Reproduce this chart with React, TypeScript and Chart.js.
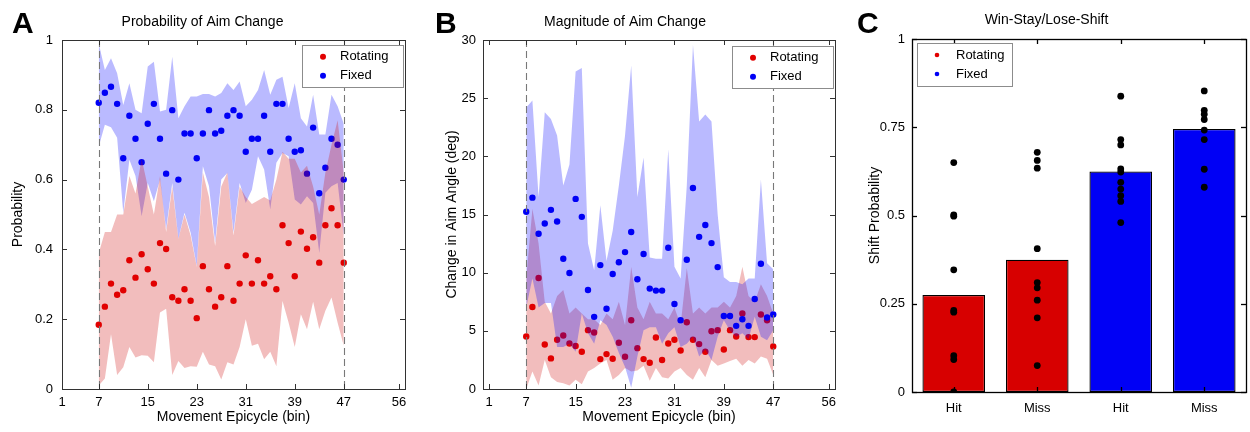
import React, { useEffect, useRef } from "react";
import { Chart, registerables } from "chart.js";

Chart.register(...registerables);

const FONT = "'Liberation Sans', Arial, Helvetica, sans-serif";

// ---------- shared ----------
const bins = [7, 8, 9, 10, 11, 12, 13, 14, 15, 16, 17, 18, 19, 20, 21, 22, 23, 24, 25, 26, 27, 28, 29, 30, 31, 32, 33, 34, 35, 36, 37, 38, 39, 40, 41, 42, 43, 44, 45, 46, 47];
const epicycleTicks = [1, 7, 15, 23, 31, 39, 47, 56];
const windowEdges = [7, 47];
const seriesNames = ["Rotating", "Fixed"];

// ---------- Panel A: probability of aim change ----------
const probRotating = [0.184, 0.236, 0.302, 0.27, 0.283, 0.369, 0.319, 0.386, 0.343, 0.302, 0.418, 0.401, 0.263, 0.253, 0.286, 0.253, 0.203, 0.352, 0.286, 0.236, 0.263, 0.352, 0.253, 0.302, 0.383, 0.302, 0.369, 0.302, 0.323, 0.286, 0.469, 0.418, 0.323, 0.451, 0.402, 0.435, 0.362, 0.469, 0.518, 0.469, 0.362];
const probRotatingLow = [0.01, 0.03, 0.157, 0.04, 0.062, 0.12, 0.09, 0.097, 0.095, 0.077, 0.219, 0.23, 0.04, 0.08, 0.06, 0.065, 0.064, 0.107, 0.07, 0.065, 0.027, 0.077, 0.07, 0.12, 0.2, 0.124, 0.13, 0.085, 0.107, 0.065, 0.252, 0.19, 0.12, 0.214, 0.171, 0.25, 0.171, 0.224, 0.262, 0.19, 0.124];
const probRotatingHigh = [0.39, 0.45, 0.45, 0.5, 0.5, 0.61, 0.56, 0.66, 0.58, 0.5, 0.61, 0.45, 0.58, 0.43, 0.5, 0.44, 0.35, 0.62, 0.55, 0.41, 0.58, 0.62, 0.44, 0.58, 0.55, 0.53, 0.54, 0.55, 0.54, 0.6, 0.68, 0.66, 0.66, 0.62, 0.64, 0.58, 0.5, 0.62, 0.7, 0.77, 0.62];
const probFixed = [0.82, 0.849, 0.866, 0.817, 0.661, 0.783, 0.717, 0.65, 0.76, 0.817, 0.717, 0.617, 0.799, 0.6, 0.732, 0.732, 0.661, 0.732, 0.799, 0.732, 0.74, 0.783, 0.799, 0.783, 0.68, 0.717, 0.717, 0.783, 0.68, 0.817, 0.817, 0.717, 0.68, 0.684, 0.617, 0.749, 0.561, 0.634, 0.717, 0.7, 0.6];
const probFixedLow = [0.695, 0.757, 0.75, 0.72, 0.505, 0.657, 0.61, 0.495, 0.59, 0.538, 0.6, 0.457, 0.59, 0.43, 0.505, 0.448, 0.352, 0.638, 0.581, 0.419, 0.6, 0.619, 0.448, 0.59, 0.533, 0.571, 0.667, 0.629, 0.514, 0.648, 0.676, 0.667, 0.543, 0.529, 0.552, 0.533, 0.39, 0.562, 0.581, 0.59, 0.438];
const probFixedHigh = [0.99, 0.914, 0.948, 0.905, 0.814, 0.876, 0.8, 0.79, 0.924, 0.938, 0.795, 0.8, 0.952, 0.776, 0.81, 0.838, 0.838, 0.845, 0.845, 0.838, 0.848, 0.876, 0.857, 0.881, 0.81, 0.829, 0.857, 0.914, 0.843, 0.886, 0.895, 0.805, 0.876, 0.776, 0.752, 0.843, 0.729, 0.729, 0.843, 0.81, 0.76];

// ---------- Panel B: magnitude of aim change (deg) ----------
const magRotating = [4.51, 7.05, 9.54, 3.83, 2.63, 4.23, 4.6, 3.91, 3.69, 3.2, 5.06, 4.86, 2.57, 3.0, 2.6, 3.97, 2.77, 5.91, 3.51, 2.57, 2.26, 4.43, 2.49, 3.91, 4.23, 3.31, 5.74, 4.23, 3.86, 3.2, 4.97, 5.06, 3.4, 5.06, 4.51, 6.49, 4.46, 4.46, 6.4, 5.91, 3.66];
const magRotatingLow = [0, 1.5, 0.3, 2.5, 1.0, 0.6, 0.5, 0.3, 0.8, 0.4, 1.5, 1.8, 2.2, 2.5, 0.8, 1.2, 1.8, 1.5, 1.6, 2.0, 0.7, 1.8, 1.0, 0.9, 1.5, 1.8, 1.2, 0.8, 1.8, 1.0, 2.5, 2.0, 2.2, 2.4, 2.6, 2.0, 2.5, 2.2, 2.8, 2.6, 1.2];
const magRotatingHigh = [9.5, 15.5, 12.5, 7.5, 6.5, 8.0, 8.5, 6.5, 7.0, 6.5, 6.0, 6.0, 5.5, 6.5, 6.0, 7.5, 5.5, 10.5, 7.0, 6.0, 7.5, 6.5, 6.5, 6.0, 7.0, 5.5, 10.4, 6.5, 7.0, 6.5, 7.0, 7.0, 7.5, 7.0, 8.0, 10.5, 8.0, 7.5, 9.0, 8.0, 6.5];
const magFixed = [15.23, 16.45, 13.34, 14.22, 15.4, 14.4, 11.2, 9.97, 16.34, 14.8, 8.51, 6.2, 10.65, 6.9, 9.88, 10.9, 11.77, 13.5, 9.43, 11.6, 8.63, 8.46, 8.46, 12.14, 7.31, 5.91, 11.11, 17.28, 13.08, 14.1, 12.54, 10.48, 6.28, 6.28, 5.43, 6.0, 5.43, 7.74, 10.77, 6.14, 6.4];
const magFixedLow = [7.0, 9.5, 7.0, 7.4, 7.4, 3.6, 3.6, 3.9, 3.2, 6.5, 4.8, 3.9, 5.9, 5.5, 4.5, 3.1, 1.9, 0.1, 2.8, 5.05, 5.3, 5.3, 3.9, 4.8, 5.3, 3.6, 3.9, 4.5, 2.8, 3.4, 2.5, 4.5, 5.9, 5.0, 4.5, 4.8, 4.3, 6.2, 4.5, 4.2, 5.05];
const magFixedHigh = [24.2, 24.8, 16.5, 23.8, 23.2, 21.8, 17.5, 19.3, 27.3, 27.6, 12.5, 10.2, 15.8, 11.0, 13.6, 17.5, 21.8, 27.8, 16.5, 19.9, 11.3, 11.2, 11.2, 20.6, 10.5, 9.5, 17.5, 29.6, 23.0, 23.6, 23.0, 15.0, 9.6, 9.2, 9.2, 9.0, 9.5, 9.5, 18.0, 10.8, 10.3];

// ---------- Panel C: win-stay / lose-shift ----------
const conditions = ["Hit", "Miss", "Hit", "Miss"];
const shiftMean = [0.275, 0.375, 0.625, 0.745];
const shiftRotHit = [0.65, 0.502, 0.498, 0.346, 0.231, 0.226, 0.103, 0.092, 0.0];
const shiftRotMiss = [0.679, 0.656, 0.634, 0.406, 0.31, 0.295, 0.26, 0.21, 0.075];
const shiftFixHit = [0.838, 0.715, 0.7, 0.632, 0.623, 0.594, 0.575, 0.556, 0.54, 0.48];
const shiftFixMiss = [0.853, 0.798, 0.787, 0.772, 0.742, 0.715, 0.631, 0.58];

// ---------- colours ----------
const RED = "rgb(225,0,0)";
const BLUE = "rgb(0,0,245)";
const RED_BAND = "rgba(205,0,0,0.26)";
const BLUE_BAND = "rgba(0,0,255,0.27)";
const BAR_RED = "rgb(215,0,0)";
const BAR_BLUE = "rgb(0,0,245)";

const pts = (ys: number[]) => bins.map((b, i) => ({ x: b, y: ys[i] }));
const fmt = (v: any) => String(parseFloat(Number(v).toFixed(2)));

function bandSets(low: number[], high: number[], color: string, lowIndex: number, order: number) {
  return [
    { type: "line", data: pts(low), borderColor: "rgba(0,0,0,0)", borderWidth: 0, pointRadius: 0, fill: false, order },
    { type: "line", data: pts(high), borderColor: "rgba(0,0,0,0)", borderWidth: 0, pointRadius: 0, fill: { target: lowIndex }, backgroundColor: color, order },
  ];
}

function dotSet(ys: number[], color: string, order: number) {
  return { type: "scatter", data: pts(ys), backgroundColor: color, pointBackgroundColor: color, pointRadius: 3.2, pointBorderWidth: 0, borderWidth: 0, showLine: false, order };
}

type LegendCfg = { anchor: "left" | "right"; dx: number; dy: number; w: number; h: number; dotX: number; rows: number[]; textX: number; r: number; colors: string[] };
type FrameCfg = { dashed?: number[]; boxColor: string; boxWidth: number; tickLen: number; legend: LegendCfg };

function makeFrame(cfg: FrameCfg) {
  return {
    id: "matlabFrame",
    afterDatasetsDraw(chart: any) {
      if (!cfg.dashed) return;
      const { ctx, chartArea } = chart;
      const xs = chart.scales.x;
      ctx.save();
      ctx.strokeStyle = "rgb(120,120,120)";
      ctx.lineWidth = 1.1;
      ctx.setLineDash([7, 4]);
      cfg.dashed.forEach((v) => {
        const px = Math.round(xs.getPixelForValue(v)) + 0.5;
        ctx.beginPath();
        ctx.moveTo(px, chartArea.top);
        ctx.lineTo(px, chartArea.bottom);
        ctx.stroke();
      });
      ctx.restore();
    },
    afterDraw(chart: any) {
      const { ctx, chartArea } = chart;
      const { left, right, top, bottom } = chartArea;
      const xs = chart.scales.x;
      const ys = chart.scales.y;
      const L = cfg.tickLen;
      ctx.save();
      ctx.strokeStyle = cfg.boxColor;
      ctx.lineWidth = cfg.boxWidth;
      ctx.setLineDash([]);
      const line = (x1: number, y1: number, x2: number, y2: number) => {
        ctx.beginPath();
        ctx.moveTo(x1, y1);
        ctx.lineTo(x2, y2);
        ctx.stroke();
      };
      xs.ticks.forEach((_t: any, i: number) => {
        const px = Math.round(xs.getPixelForTick(i)) + 0.5;
        line(px, bottom, px, bottom - L);
        line(px, top, px, top + L);
      });
      ys.ticks.forEach((_t: any, i: number) => {
        const py = Math.round(ys.getPixelForTick(i)) + 0.5;
        line(left, py, left + L, py);
        line(right, py, right - L, py);
      });
      ctx.strokeRect(Math.round(left) + 0.5, Math.round(top) + 0.5, Math.round(right - left), Math.round(bottom - top));

      // legend
      const lg = cfg.legend;
      const bx = Math.round(lg.anchor === "right" ? right - lg.dx - lg.w : left + lg.dx);
      const by = Math.round(top + lg.dy);
      ctx.fillStyle = "#fff";
      ctx.fillRect(bx, by, lg.w, lg.h);
      ctx.strokeStyle = "rgb(140,140,140)";
      ctx.lineWidth = 1;
      ctx.strokeRect(bx + 0.5, by + 0.5, lg.w, lg.h);
      ctx.font = `13px ${FONT}`;
      ctx.textBaseline = "middle";
      ctx.textAlign = "left";
      seriesNames.forEach((name, k) => {
        const cy = by + lg.rows[k];
        ctx.fillStyle = lg.colors[k];
        ctx.beginPath();
        ctx.arc(bx + lg.dotX, cy, lg.r, 0, Math.PI * 2);
        ctx.fill();
        ctx.fillStyle = "#000";
        ctx.fillText(name, bx + lg.textX, cy);
      });
      ctx.restore();
    },
  };
}

const tickFont = { family: FONT, size: 13 };
const titleFont = { family: FONT, size: 14, weight: "normal" as const };

function timeChart(canvas: HTMLCanvasElement, opts: any) {
  const { title, yTitle, yTitlePad, yTickPad, yMax, yStep, yWidth, xMin, rightPad, datasets, legend } = opts;
  return new Chart(canvas, {
    type: "scatter",
    data: { datasets },
    options: {
      responsive: false,
      animation: false,
      devicePixelRatio: 1,
      layout: { padding: { left: 0, right: rightPad, top: 0, bottom: 0 } },
      plugins: {
        legend: { display: false },
        tooltip: { enabled: false },
        title: { display: true, text: title, color: "#000", font: titleFont, padding: { top: 13.6, bottom: 9.6 } },
        filler: { propagate: false, drawTime: "beforeDatasetDraw" },
      },
      scales: {
        x: {
          type: "linear",
          min: xMin,
          max: 57,
          grid: { display: false, drawTicks: false },
          border: { display: false },
          afterBuildTicks: (s: any) => {
            s.ticks = epicycleTicks.map((v) => ({ value: v }));
          },
          afterFit: (s: any) => {
            s.height = 43;
          },
          ticks: { padding: 5.5, color: "#000", font: tickFont, autoSkip: false, maxRotation: 0, callback: fmt },
          title: { display: true, text: "Movement Epicycle (bin)", color: "#000", font: titleFont, padding: { top: 0, bottom: 6.4 } },
        },
        y: {
          type: "linear",
          min: 0,
          max: yMax,
          grid: { display: false, drawTicks: false },
          border: { display: false },
          afterFit: (s: any) => {
            s.width = yWidth;
          },
          ticks: { stepSize: yStep, padding: yTickPad, color: "#000", font: tickFont, callback: fmt },
          title: { display: true, text: yTitle, color: "#000", font: titleFont, padding: { top: yTitlePad, bottom: 0 } },
        },
      },
    } as any,
    plugins: [makeFrame({ dashed: windowEdges, boxColor: "rgb(50,50,50)", boxWidth: 1, tickLen: 5, legend })],
  } as any);
}

export default function App() {
  const refA = useRef<HTMLCanvasElement>(null);
  const refB = useRef<HTMLCanvasElement>(null);
  const refC = useRef<HTMLCanvasElement>(null);

  useEffect(() => {
    // Panel A: blue band (idx 0,1), blue dots (2), red band (3,4), red dots (5)
    const dsA = [
      ...bandSets(probFixedLow, probFixedHigh, BLUE_BAND, 0, 4),
      dotSet(probFixed, BLUE, 3),
      ...bandSets(probRotatingLow, probRotatingHigh, RED_BAND, 3, 2),
      dotSet(probRotating, RED, 1),
    ];
    const chartA = timeChart(refA.current!, {
      title: "Probability of Aim Change",
      yTitle: "Probability",
      yTitlePad: 9.6,
      yTickPad: 9,
      yMax: 1,
      yStep: 0.2,
      yWidth: 62,
      xMin: 1,
      rightPad: 10,
      datasets: dsA,
      legend: { anchor: "right", dx: 2, dy: 5, w: 101, h: 42, dotX: 21, rows: [11.7, 30.7], textX: 38, r: 3, colors: [RED, BLUE] },
    });

    // Panel B: red band (0,1), red dots (2), blue band (3,4), blue dots (5)
    const dsB = [
      ...bandSets(magRotatingLow, magRotatingHigh, RED_BAND, 0, 4),
      dotSet(magRotating, RED, 3),
      ...bandSets(magFixedLow, magFixedHigh, BLUE_BAND, 3, 2),
      dotSet(magFixed, BLUE, 1),
    ];
    const chartB = timeChart(refB.current!, {
      title: "Magnitude of Aim Change",
      yTitle: "Change in Aim Angle (deg)",
      yTitlePad: 28.6,
      yTickPad: 7,
      yMax: 30,
      yStep: 5,
      yWidth: 68,
      xMin: 0,
      rightPad: 10,
      datasets: dsB,
      legend: { anchor: "right", dx: 2, dy: 5.7, w: 101, h: 42, dotX: 21, rows: [11.7, 30.7], textX: 38, r: 3, colors: [RED, BLUE] },
    });

    // Panel C
    const subjectGroups = [shiftRotHit, shiftRotMiss, shiftFixHit, shiftFixMiss];
    const subjectPoints: { x: number; y: number }[] = [];
    subjectGroups.forEach((g, i) => g.forEach((v) => subjectPoints.push({ x: i, y: v })));
    const chartC = new Chart(refC.current!, {
      type: "bar",
      data: {
        datasets: [
          {
            type: "scatter",
            data: subjectPoints,
            backgroundColor: "#000",
            pointBackgroundColor: "#000",
            pointRadius: 3.4,
            pointBorderWidth: 0,
            order: 1,
          },
          {
            type: "bar",
            data: shiftMean.map((v, i) => ({ x: i, y: v })),
            backgroundColor: [BAR_RED, BAR_RED, BAR_BLUE, BAR_BLUE],
            borderColor: "#000",
            borderWidth: 1.3,
            borderSkipped: false,
            barPercentage: 0.75,
            categoryPercentage: 1,
            order: 2,
          },
        ],
      },
      options: {
        responsive: false,
        animation: false,
        devicePixelRatio: 1,
        layout: { padding: { left: 0, right: 2, top: 0, bottom: 0 } },
        plugins: {
          legend: { display: false },
          tooltip: { enabled: false },
          title: { display: true, text: "Win-Stay/Lose-Shift", color: "#000", font: titleFont, padding: { top: 11.6, bottom: 10.6 } },
        },
        scales: {
          x: {
            type: "linear",
            min: -0.5,
            max: 3.5,
            offset: false,
            grid: { display: false, drawTicks: false },
            border: { display: false },
            afterBuildTicks: (s: any) => {
              s.ticks = conditions.map((_c, i) => ({ value: i }));
            },
            afterFit: (s: any) => {
              s.height = 40;
            },
            ticks: { padding: 8.5, color: "#000", font: tickFont, autoSkip: false, maxRotation: 0, callback: (v: any) => conditions[Number(v)] },
          },
          y: {
            type: "linear",
            min: 0,
            max: 1,
            grid: { display: false, drawTicks: false },
            border: { display: false },
            afterFit: (s: any) => {
              s.width = 67;
            },
            ticks: { stepSize: 0.25, padding: 7, color: "#000", font: tickFont, callback: fmt },
            title: { display: true, text: "Shift Probability", color: "#000", font: titleFont, padding: { top: 21.6, bottom: 0 } },
          },
        },
      } as any,
      plugins: [makeFrame({ boxColor: "#000", boxWidth: 1.3, tickLen: 5, legend: { anchor: "left", dx: 5, dy: 4, w: 95, h: 43, dotX: 20, rows: [12, 31], textX: 39, r: 2.3, colors: [RED, BLUE] } })],
    } as any);

    return () => {
      chartA.destroy();
      chartB.destroy();
      chartC.destroy();
    };
  }, []);

  const letter = (txt: string, left: number) => (
    <div style={{ position: "absolute", left, top: 8, font: `bold 30px ${FONT}`, lineHeight: "30px", color: "#000" }}>{txt}</div>
  );

  return (
    <div style={{ position: "absolute", left: 0, top: 0, width: 1250, height: 432, background: "#fff", overflow: "hidden" }}>
      <canvas ref={refA} width={415} height={432} style={{ position: "absolute", left: 0, top: 0, width: 415, height: 432 }} />
      <canvas ref={refB} width={430} height={432} style={{ position: "absolute", left: 415, top: 0, width: 430, height: 432 }} />
      <canvas ref={refC} width={405} height={432} style={{ position: "absolute", left: 845, top: 0, width: 405, height: 432 }} />
      {letter("A", 12)}
      {letter("B", 435)}
      {letter("C", 857)}
    </div>
  );
}
